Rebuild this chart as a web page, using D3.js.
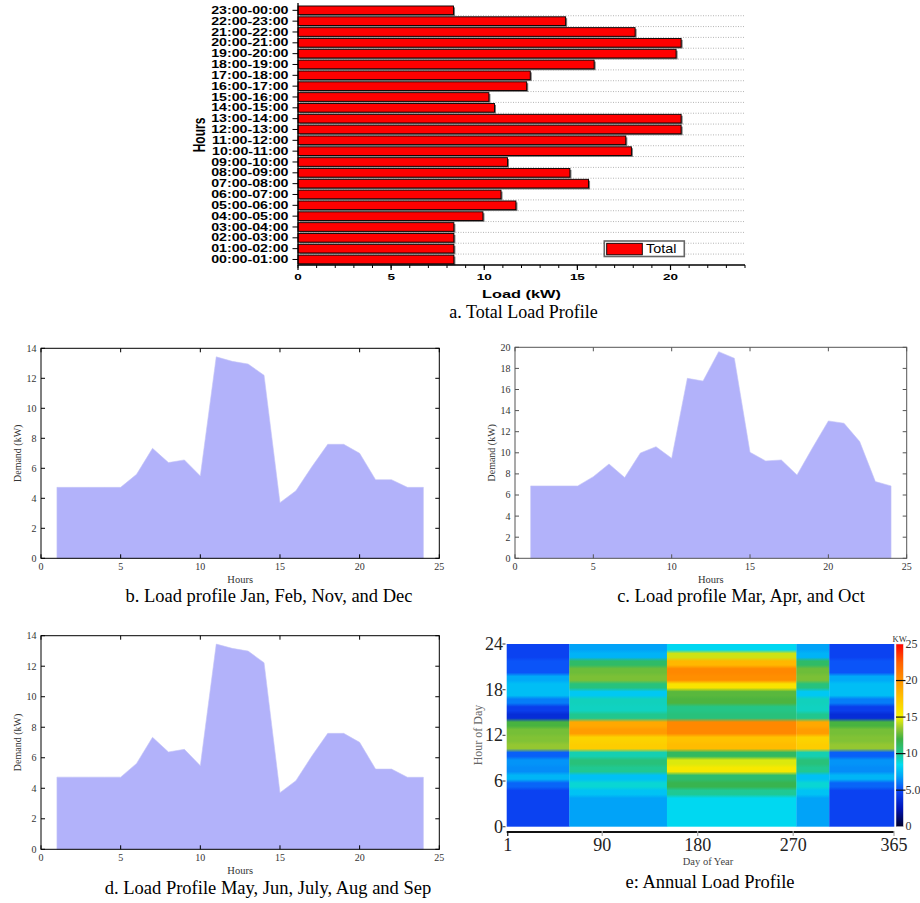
<!DOCTYPE html>
<html lang="en">
<head>
  <meta charset="UTF-8">
  <title>Load Profiles</title>
  <script src="https://d3js.org/d3.v7.min.js"></script>
  <style>
    body { margin: 0; background: #fff; }
    svg { display: block; }
  </style>
</head>
<body>
  <script>
    // ---- data ----
    const hourLabels = [
      "00:00-01:00", "01:00-02:00", "02:00-03:00", "03:00-04:00", "04:00-05:00", "05:00-06:00",
      "06:00-07:00", "07:00-08:00", "08:00-09:00", "09:00-10:00", "10:00-11:00", "11:00-12:00",
      "12:00-13:00", "13:00-14:00", "14:00-15:00", "15:00-16:00", "16:00-17:00", "17:00-18:00",
      "18:00-19:00", "19:00-20:00", "20:00-21:00", "21:00-22:00", "22:00-23:00", "23:00-00:00"
    ];
    const totalLoad = [8.37, 8.37, 8.37, 8.37, 9.93, 11.7, 10.9, 15.6, 14.6, 11.25, 17.9, 17.6,
                       20.57, 20.57, 10.55, 10.25, 12.28, 12.47, 15.9, 20.3, 20.57, 18.1, 14.37, 8.35];
    const loadTicks = [0, 5, 10, 15, 20];

    const hours = [1, 2, 3, 4, 5, 6, 7, 8, 9, 10, 11, 12, 13, 14, 15, 16, 17, 18, 19, 20, 21, 22, 23, 24];
    const loadJanFebNovDec = [4.73, 4.73, 4.73, 4.73, 4.73, 5.6, 7.33, 6.38, 6.56, 5.49, 13.43, 13.13,
                              12.95, 12.2, 3.71, 4.5, 6.1, 7.6, 7.6, 7.0, 5.24, 5.24, 4.73, 4.73];
    const loadMarAprOct = [6.86, 6.86, 6.86, 6.86, 7.74, 8.94, 7.65, 9.98, 10.58, 9.48, 17.06, 16.8,
                           19.59, 18.96, 10.05, 9.23, 9.32, 7.9, 10.5, 13.02, 12.8, 11.06, 7.27, 6.86];
    const loadMaySep = [4.73, 4.73, 4.73, 4.73, 4.73, 5.63, 7.34, 6.38, 6.55, 5.48, 13.45, 13.17,
                        12.99, 12.23, 3.71, 4.5, 6.11, 7.6, 7.6, 7.01, 5.26, 5.26, 4.72, 4.72];
    const hourTicks = [0, 5, 10, 15, 20, 25];

    // annual heat map: day-of-year block edges and which daily profile fills each block
    const blockEdges = [0, 59, 151, 273, 304, 365];
    const blockProfiles = ["winter", "spring", "summer", "spring", "winter"];
    const dayTicks = [1, 90, 180, 270, 365];
    const hourOfDayTicks = [0, 6, 12, 18, 24];
    const kwTicks = [0, 5, 10, 15, 20, 25];
    const kwTickLabels = ["0", "5.0", "10", "15", "20", "25"];

    const profiles = { winter: loadJanFebNovDec, spring: loadMarAprOct, summer: totalLoad };

    const SANS = '"Liberation Sans", Arial, sans-serif';
    const SERIF = '"Liberation Serif", "Times New Roman", serif';
    const STRETCH = 1.42;

    const svg = d3.select("body").append("svg")
      .attr("width", 920)
      .attr("height", 903);

    // ---------- a. total load bar chart ----------
    const xA = d3.scaleLinear().domain([0, 24]).range([298, 745]);
    const yA = d3.scaleBand().domain(hourLabels.slice().reverse())
      .range([4.9, 264.9]).paddingInner(0.2).paddingOuter(0.1);
    const bw = yA.bandwidth();
    const gap = (yA.step() - bw) / 2;
    const gA = svg.append("g");

    gA.selectAll(".grid").data(hourLabels.slice(0, 23)).join("line")
      .attr("x1", xA(0)).attr("x2", xA(24))
      .attr("y1", d => yA(d) - gap).attr("y2", d => yA(d) - gap)
      .attr("stroke", "#b5b5b5").attr("stroke-width", 1).attr("stroke-dasharray", "1,1.5");

    gA.selectAll(".shadow").data(totalLoad).join("rect")
      .attr("x", xA(0) + 1.5)
      .attr("y", (d, i) => yA(hourLabels[i]) + 1.4)
      .attr("width", d => xA(d) - xA(0))
      .attr("height", bw)
      .attr("fill", "#777");
    gA.selectAll(".bar").data(totalLoad).join("rect")
      .attr("x", xA(0))
      .attr("y", (d, i) => yA(hourLabels[i]))
      .attr("width", d => xA(d) - xA(0))
      .attr("height", bw)
      .attr("fill", "#ff0000").attr("stroke", "#000").attr("stroke-width", 0.9);

    // axes
    gA.append("line").attr("x1", xA(0)).attr("x2", xA(0)).attr("y1", 3).attr("y2", 265.5)
      .attr("stroke", "#000").attr("stroke-width", 1.3);
    gA.append("line").attr("x1", xA(0)).attr("x2", xA(24)).attr("y1", 265).attr("y2", 265)
      .attr("stroke", "#000").attr("stroke-width", 1.3);
    gA.selectAll(".ytick").data(hourLabels).join("line")
      .attr("x1", xA(0) - 5.5).attr("x2", xA(0))
      .attr("y1", d => yA(d) + bw / 2).attr("y2", d => yA(d) + bw / 2)
      .attr("stroke", "#000");
    gA.selectAll(".xminor").data(d3.range(0, 25)).join("line")
      .attr("x1", d => xA(d)).attr("x2", d => xA(d))
      .attr("y1", 265).attr("y2", 268)
      .attr("stroke", "#000");
    gA.selectAll(".xmajor").data(loadTicks).join("line")
      .attr("x1", d => xA(d)).attr("x2", d => xA(d))
      .attr("y1", 265).attr("y2", 270)
      .attr("stroke", "#000").attr("stroke-width", 1.2);

    gA.selectAll(".ylab").data(hourLabels).join("text")
      .attr("transform", d => `translate(288.5,${yA(d) + bw / 2 + 3.6}) scale(${STRETCH},1)`)
      .attr("text-anchor", "end")
      .attr("font-family", SANS).attr("font-weight", "bold").attr("font-size", 10)
      .text(d => d);
    gA.selectAll(".xlab").data(loadTicks).join("text")
      .attr("transform", d => `translate(${xA(d)},279.5) scale(${STRETCH},1)`)
      .attr("text-anchor", "middle")
      .attr("font-family", SANS).attr("font-weight", "bold").attr("font-size", 9.5)
      .text(d => d);
    gA.append("text")
      .attr("transform", `translate(521.5,297.5) scale(${STRETCH},1)`)
      .attr("text-anchor", "middle")
      .attr("font-family", SANS).attr("font-weight", "bold").attr("font-size", 11.5)
      .text("Load (kW)");
    gA.append("text")
      .attr("transform", `translate(205,135) scale(${STRETCH},1) rotate(-90)`)
      .attr("text-anchor", "middle")
      .attr("font-family", SANS).attr("font-weight", "bold").attr("font-size", 12)
      .text("Hours");

    // legend
    gA.append("rect").attr("x", 604.3).attr("y", 241).attr("width", 80).attr("height", 15.5)
      .attr("fill", "#fff").attr("stroke", "#666").attr("stroke-width", 1.6);
    gA.append("rect").attr("x", 606.7).attr("y", 243.3).attr("width", 35.6).attr("height", 11.5)
      .attr("fill", "#ff0000").attr("stroke", "#000").attr("stroke-width", 0.9);
    gA.append("text")
      .attr("transform", "translate(646,253) scale(1.15,1)")
      .attr("font-family", SANS).attr("font-size", 12.5)
      .text("Total");

    svg.append("text").attr("x", 523.5).attr("y", 318)
      .attr("text-anchor", "middle").attr("font-family", SERIF).attr("font-size", 18)
      .text("a. Total Load Profile");

    // ---------- b, c, d. area charts ----------
    function areaPanel(p) {
      const x = d3.scaleLinear().domain([0, 25]).range([p.x0, p.x1]);
      const y = d3.scaleLinear().domain([0, p.yMax]).range([p.y1, p.y0]);
      const g = svg.append("g");

      const area = d3.area()
        .x((d, i) => x(hours[i]))
        .y0(y(0))
        .y1(d => y(d));
      g.append("path").datum(p.values).attr("d", area)
        .attr("fill", "#b2b2fa").attr("stroke", "#c4c4f6").attr("stroke-width", 0.6);

      g.append("rect")
        .attr("x", p.x0).attr("y", p.y0)
        .attr("width", p.x1 - p.x0).attr("height", p.y1 - p.y0)
        .attr("fill", "none").attr("stroke", p.frame).attr("stroke-width", 1);

      const yTicks = d3.range(0, p.yMax + 1, 2);
      const tk = 4;
      g.selectAll(".yt").data(yTicks).join("path")
        .attr("d", d => `M${p.x0},${y(d)}h${tk}M${p.x1},${y(d)}h${-tk}`)
        .attr("stroke", p.frame);
      g.selectAll(".xt").data(hourTicks).join("path")
        .attr("d", d => `M${x(d)},${p.y1}v${-tk}M${x(d)},${p.y0}v${tk}`)
        .attr("stroke", p.frame);

      g.selectAll(".yl").data(yTicks).join("text")
        .attr("x", p.x0 - 4.5).attr("y", d => y(d) + 3.4)
        .attr("text-anchor", "end")
        .attr("font-family", SERIF).attr("font-size", 10).attr("fill", "#333")
        .text(d => d);
      g.selectAll(".xl").data(hourTicks).join("text")
        .attr("x", d => x(d)).attr("y", p.y1 + 11.8)
        .attr("text-anchor", "middle")
        .attr("font-family", SERIF).attr("font-size", 10).attr("fill", "#333")
        .text(d => d);

      g.append("text")
        .attr("transform", `translate(${p.yTitleX},${(p.y0 + p.y1) / 2}) rotate(-90)`)
        .attr("text-anchor", "middle")
        .attr("font-family", SERIF).attr("font-size", 10).attr("fill", "#333")
        .text("Demand (kW)");
      g.append("text")
        .attr("x", (p.x0 + p.x1) / 2).attr("y", p.y1 + 24.5)
        .attr("text-anchor", "middle")
        .attr("font-family", SERIF).attr("font-size", 10.5).attr("fill", "#333")
        .text("Hours");
      g.append("text")
        .attr("x", p.capX).attr("y", p.capY)
        .attr("text-anchor", "middle")
        .attr("font-family", SERIF).attr("font-size", 18.5)
        .text(p.caption);
    }

    areaPanel({ x0: 41, x1: 439.3, y0: 348.3, y1: 558.3, yMax: 14, values: loadJanFebNovDec,
      frame: "#000", yTitleX: 20.5, capX: 269, capY: 602,
      caption: "b. Load profile Jan, Feb, Nov, and Dec" });
    areaPanel({ x0: 515, x1: 906.7, y0: 347.3, y1: 558.3, yMax: 20, values: loadMarAprOct,
      frame: "#555", yTitleX: 495, capX: 741, capY: 602,
      caption: "c. Load profile Mar, Apr, and Oct" });
    areaPanel({ x0: 41, x1: 439.3, y0: 635.7, y1: 849.3, yMax: 14, values: loadMaySep,
      frame: "#000", yTitleX: 20.5, capX: 268, capY: 894,
      caption: "d. Load Profile May, Jun, July, Aug and Sep" });

    // ---------- e. annual heat map ----------
    const color = d3.scaleLinear()
      .domain([0, 2.5, 5, 7, 8.5, 10, 12, 13.5, 15, 17.5, 20, 22.5, 25])
      .range(["#00002a", "#0014b8", "#0c48f8", "#00aaf8", "#00dcf0", "#20c890", "#3cb043",
              "#98c830", "#f5f500", "#ffc400", "#ff9400", "#ff6000", "#ff0000"])
      .clamp(true);

    const xE = d3.scaleLinear().domain([0, 365]).range([506.7, 894]);
    const yE = d3.scaleLinear().domain([0, 24]).range([826.7, 644]);
    const gE = svg.append("g");
    const defs = svg.append("defs");

    blockProfiles.forEach((name, i) => {
      const grad = defs.append("linearGradient").attr("id", "blk" + i)
        .attr("x1", 0).attr("y1", 1).attr("x2", 0).attr("y2", 0);
      profiles[name].forEach((v, h) => {
        grad.append("stop").attr("offset", (h + 0.25) / 24).attr("stop-color", color(v));
        grad.append("stop").attr("offset", (h + 0.75) / 24).attr("stop-color", color(v));
      });
    });
    gE.selectAll(".blk").data(blockProfiles).join("rect")
      .attr("x", (d, i) => xE(blockEdges[i]))
      .attr("width", (d, i) => xE(blockEdges[i + 1]) - xE(blockEdges[i]) + 0.3)
      .attr("y", yE(24)).attr("height", yE(0) - yE(24))
      .attr("fill", (d, i) => `url(#blk${i})`);

    // y axis
    gE.selectAll(".hl").data(hourOfDayTicks).join("text")
      .attr("x", 503).attr("y", d => yE(d) + 6)
      .attr("text-anchor", "end")
      .attr("font-family", SERIF).attr("font-size", 18).attr("fill", "#222")
      .text(d => d);
    gE.selectAll(".ht").data(hourOfDayTicks).join("line")
      .attr("x1", 502.5).attr("x2", 505.5).attr("y1", d => yE(d)).attr("y2", d => yE(d))
      .attr("stroke", "#555").attr("stroke-width", 1.2);
    gE.append("text")
      .attr("transform", `translate(482,735) rotate(-90)`)
      .attr("text-anchor", "middle")
      .attr("font-family", SERIF).attr("font-size", 12).attr("fill", "#666")
      .text("Hour of Day");

    // x axis
    gE.append("line").attr("x1", xE(0)).attr("x2", xE(365)).attr("y1", 832).attr("y2", 832)
      .attr("stroke", "#111").attr("stroke-width", 2.2);
    gE.selectAll(".dt").data(dayTicks).join("line")
      .attr("x1", d => xE(d)).attr("x2", d => xE(d)).attr("y1", 831).attr("y2", 836)
      .attr("stroke", (d, i) => i === 0 ? "#111" : "#aaa").attr("stroke-width", 1.2);
    gE.selectAll(".dl").data(dayTicks).join("text")
      .attr("x", d => xE(d)).attr("y", 851)
      .attr("text-anchor", "middle")
      .attr("font-family", SERIF).attr("font-size", 18).attr("fill", "#222")
      .text(d => d);
    gE.append("text").attr("x", 708).attr("y", 864.5)
      .attr("text-anchor", "middle")
      .attr("font-family", SERIF).attr("font-size", 10.5).attr("fill", "#444")
      .text("Day of Year");

    // colour bar
    const cbY = d3.scaleLinear().domain([0, 25]).range([826.7, 644]);
    const cbGrad = defs.append("linearGradient").attr("id", "cbar")
      .attr("x1", 0).attr("y1", 1).attr("x2", 0).attr("y2", 0);
    color.domain().forEach(v => {
      cbGrad.append("stop").attr("offset", v / 25).attr("stop-color", color(v));
    });
    gE.append("rect").attr("x", 896).attr("y", cbY(25)).attr("width", 7.3).attr("height", cbY(0) - cbY(25))
      .attr("fill", "url(#cbar)").attr("stroke", "#ddd").attr("stroke-width", 0.5);
    gE.selectAll(".ct").data(kwTicks.slice(1, 5)).join("line")
      .attr("x1", 896).attr("x2", 905.5).attr("y1", d => cbY(d)).attr("y2", d => cbY(d))
      .attr("stroke", "#111").attr("stroke-width", 1.2);
    gE.selectAll(".cl").data(kwTicks).join("text")
      .attr("x", 905.5).attr("y", d => cbY(d) + 3.5)
      .attr("font-family", SERIF).attr("font-size", 12).attr("fill", "#333")
      .text((d, i) => kwTickLabels[i]);
    gE.append("text").attr("x", 892.5).attr("y", 642)
      .attr("font-family", SERIF).attr("font-size", 8.5).attr("fill", "#333")
      .text("KW");

    svg.append("text").attr("x", 710).attr("y", 888)
      .attr("text-anchor", "middle").attr("font-family", SERIF).attr("font-size", 18.5)
      .text("e: Annual Load Profile");
  </script>
</body>
</html>
